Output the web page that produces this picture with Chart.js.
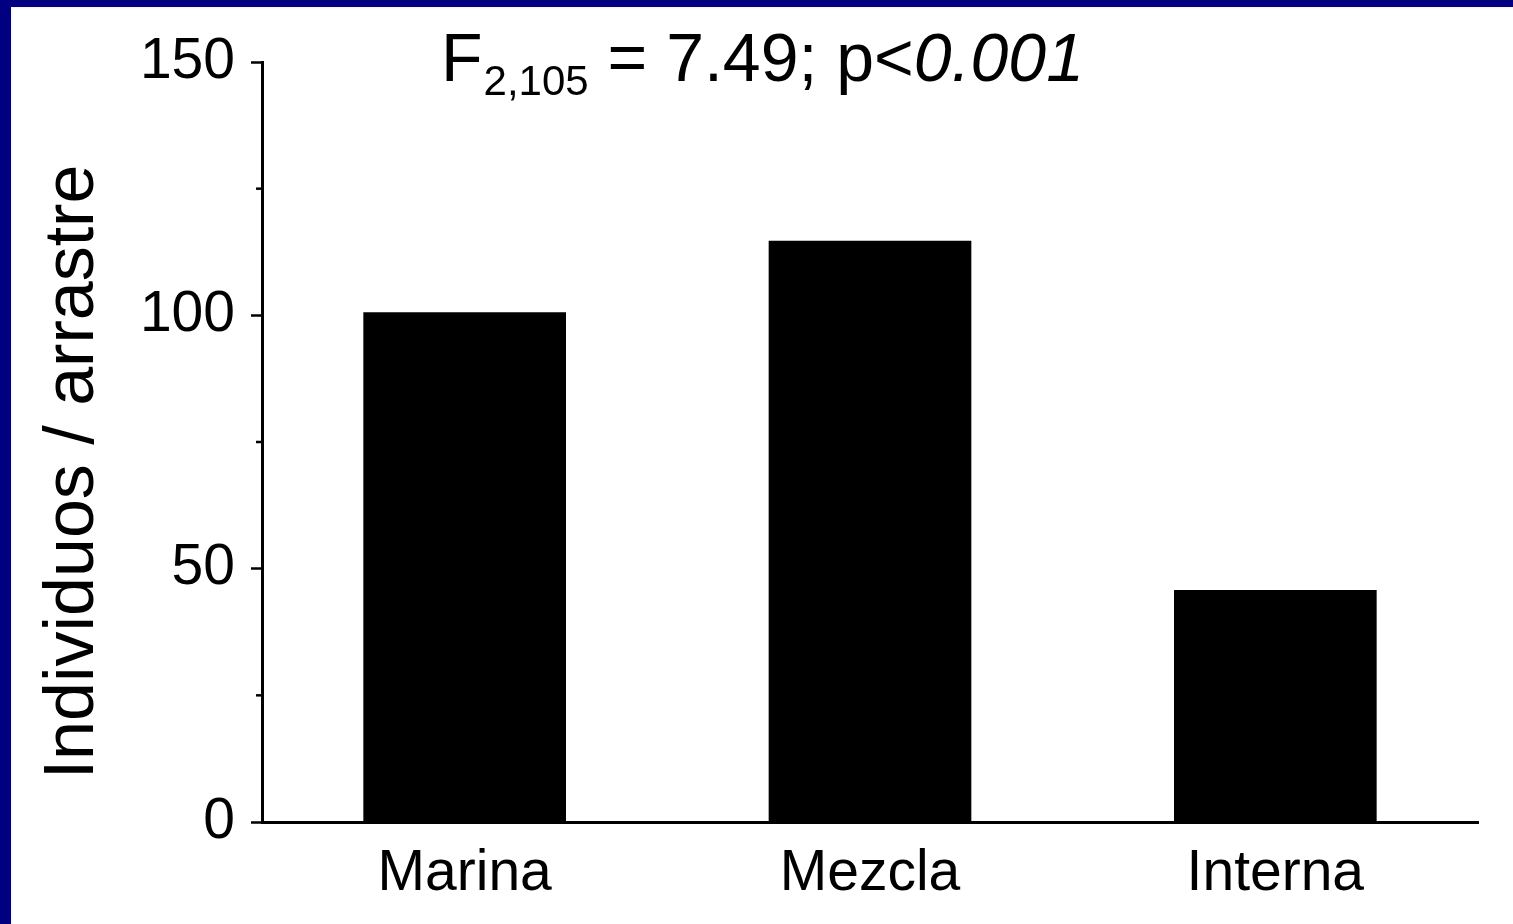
<!DOCTYPE html>
<html>
<head>
<meta charset="utf-8">
<title>Individuos / arrastre</title>
<script src="https://cdn.jsdelivr.net/npm/chart.js@4.4.0/dist/chart.umd.min.js"></script>
<style>
html, body { margin: 0; padding: 0; background: #000080; overflow: hidden; }
#wrap { position: absolute; left: 11px; top: 7px; width: 1502px; height: 917px; background: #fff; }
</style>
</head>
<body>
<div id="wrap"><canvas id="chart"></canvas></div>
<script>
var FONT = '"Liberation Sans", Arial, sans-serif';

// data
var categories = ["Marina", "Mezcla", "Interna"];
var values = [100.6, 114.7, 45.8];
var yTicks = [0, 50, 100, 150];
var yMinorTicks = [25, 75, 125];
var yTitle = "Individuos / arrastre";

// extra drawing: minor ticks, axis title, the F statistic
var extras = {
	id: 'extras',
	afterDraw: function(chart) {
		var ctx = chart.ctx;
		var y = chart.scales.y;
		var area = chart.chartArea;
		ctx.save();

		ctx.strokeStyle = '#000';
		ctx.lineWidth = 2.5;
		yMinorTicks.forEach(function(v) {
			var py = y.getPixelForValue(v);
			ctx.beginPath();
			ctx.moveTo(area.left - 6, py);
			ctx.lineTo(area.left, py);
			ctx.stroke();
		});

		ctx.fillStyle = '#000';
		ctx.textAlign = 'center';
		ctx.textBaseline = 'alphabetic';
		ctx.save();
		ctx.translate(82, 465);
		ctx.rotate(-Math.PI / 2);
		ctx.font = '70px ' + FONT;
		ctx.fillText(yTitle, 0, 0);
		ctx.restore();

		// F(2,105) = 7.49; p<0.001
		ctx.textAlign = 'left';
		var x = 430;
		ctx.font = '68px ' + FONT;
		ctx.fillText('F', x, 74);
		x += ctx.measureText('F').width + 1;
		ctx.font = '42px ' + FONT;
		ctx.fillText('2,105', x, 88);
		x += ctx.measureText('2,105').width;
		ctx.font = '68px ' + FONT;
		ctx.fillText(' = 7.49; p<', x, 74);
		x += ctx.measureText(' = 7.49; p<').width;
		ctx.font = 'italic 68px ' + FONT;
		ctx.fillText('0.001', x, 74);

		ctx.restore();
	}
};

var ctx = document.getElementById('chart').getContext('2d');
var chart = new Chart(ctx, {
	type: 'bar',
	data: {
		labels: categories,
		datasets: [{
			data: values,
			backgroundColor: '#000',
			borderWidth: 0,
			barPercentage: 0.5,
			categoryPercentage: 1.0
		}]
	},
	options: {
		responsive: true,
		maintainAspectRatio: false,
		animation: false,
		layout: { padding: { top: 55, right: 35, left: 0, bottom: 0 } },
		plugins: {
			legend: { display: false },
			tooltip: { enabled: false }
		},
		scales: {
			x: {
				grid: { display: false },
				border: { display: true, color: '#000', width: 3 },
				ticks: { color: '#000', font: { family: FONT, size: 57 }, padding: 10, maxRotation: 0 },
				afterFit: function(s) { s.height = 102; }
			},
			y: {
				min: 0,
				max: 150,
				afterBuildTicks: function(s) {
					s.ticks = yTicks.map(function(v) { return { value: v }; });
				},
				grid: { drawOnChartArea: false, tickLength: 11, tickWidth: 2.5, tickColor: '#000' },
				border: { color: '#000', width: 3 },
				ticks: { color: '#000', font: { family: FONT, size: 57 }, padding: 16 },
				afterFit: function(s) { s.width = 251; }
			}
		}
	},
	plugins: [extras]
});
</script>
</body>
</html>
